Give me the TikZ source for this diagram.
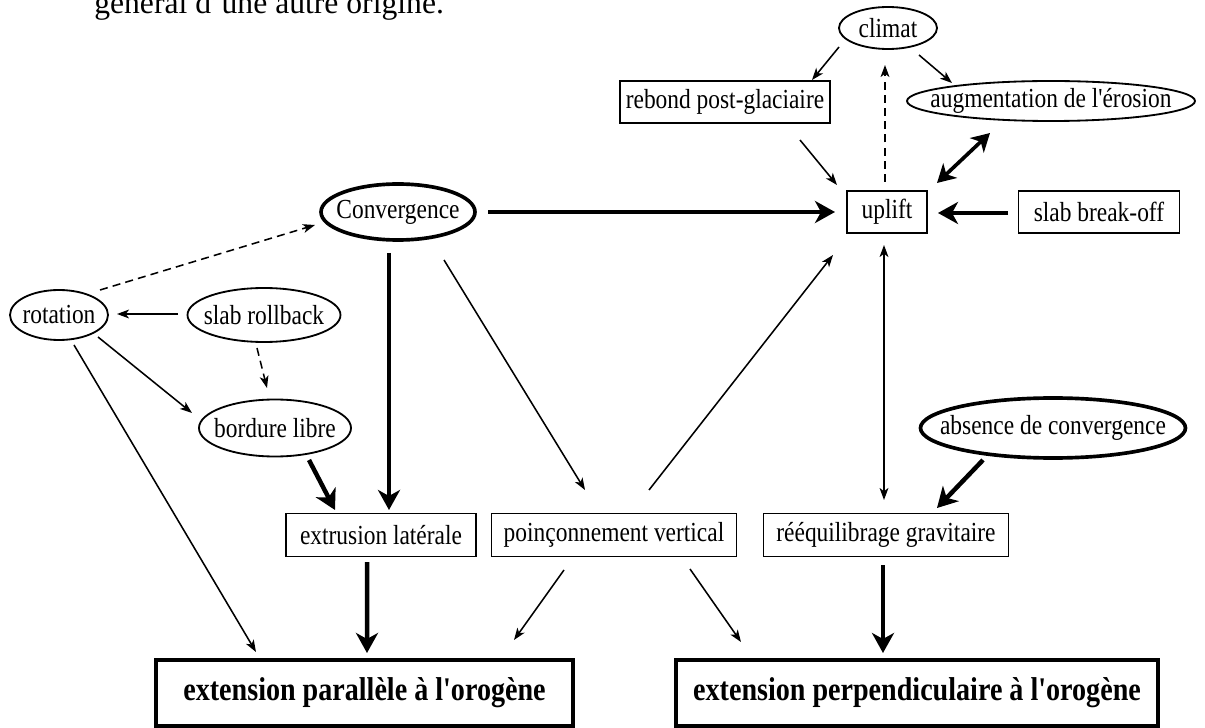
\documentclass[tikz,border=0pt]{standalone}
\usepackage{fontspec}
\setmainfont{Liberation Serif}[Ligatures=TeXOff]
\newfontfamily\labfont{Liberation Serif}[Ligatures=TeXOff, FakeStretch=0.85]
\usetikzlibrary{arrows.meta,shapes.geometric}
\begin{document}
\begin{tikzpicture}[x=0.025cm, y=-0.025cm,
  lbl/.style={font=\labfont\fontsize{19.6}{23}\selectfont, inner sep=0pt, line width=1.3pt},
  rbox/.style={lbl, draw, rectangle, inner xsep=4pt},
  ebox/.style={lbl, draw, ellipse},
  thickb/.style={line width=2.6pt},
  bbox/.style={draw, rectangle, inner sep=0pt, line width=3.2pt, font=\labfont\bfseries\fontsize{23.5}{27}\selectfont},
  sz/.style 2 args={minimum width=#1*0.025cm, minimum height=#2*0.025cm},
  thinarr/.style={line width=1.1pt, -{Stealth[length=0.3cm,width=0.22cm,inset=0.08cm]}},
  dasharr/.style={thinarr, dash pattern=on 0.2cm off 0.13cm},
  thickarr/.style={line width=3.2pt, -{Stealth[length=0.5cm,width=0.55cm,inset=0.15cm]}},
  midarr/.style={line width=2.6pt, {Stealth[length=0.45cm,width=0.5cm,inset=0.13cm]}-{Stealth[length=0.45cm,width=0.5cm,inset=0.13cm]}},
  dblthin/.style={line width=1.1pt, {Stealth[length=0.3cm,width=0.22cm,inset=0.08cm]}-{Stealth[length=0.3cm,width=0.22cm,inset=0.08cm]}}
]
\useasboundingbox (0,0) rectangle (1205,728);
\clip (0,0) rectangle (1205,728);

\node[anchor=base west, inner sep=0pt, font=\fontsize{22.5}{27}\selectfont] (toptext) at (94,14) {général d’une autre origine.};

\node[ebox, sz={98}{42}] (climat) at (888,28) {\makebox[0pt]{climat}};
\node[rbox, sz={208}{42}] (rebond) at (725,102) {rebond post-glaciaire};
\node[ebox, sz={288}{40}] (erosion) at (1051,101) {\makebox[0pt]{augmentation de l'érosion}};
\node[rbox, sz={80}{42}] (uplift) at (887,212) {uplift};
\node[rbox, sz={161}{42}] (breakoff) at (1099,212) {slab break-off};
\node[ebox, thickb, sz={154}{56}] (conv) at (398,212) {\makebox[0pt]{Convergence}};
\node[ebox, sz={98}{50}] (rotation) at (59,315) {\makebox[0pt]{rotation}};
\node[ebox, sz={153}{54}] (rollback) at (264,315) {\makebox[0pt]{slab rollback}};
\node[ebox, sz={152}{57}] (bordure) at (275,428) {\makebox[0pt]{bordure libre}};
\node[ebox, thickb, sz={265}{60}] (absence) at (1053,428) {\makebox[0pt]{absence de convergence}};
\node[rbox, sz={190}{43}] (extrusion) at (381,535) {extrusion latérale};
\node[rbox, sz={245}{43}] (poinc) at (614,535) {poinçonnement vertical};
\node[rbox, sz={245}{43}] (reequil) at (886,535) {rééquilibrage gravitaire};
\node[bbox, sz={417}{66}] (parallel) at (364.5,693) {extension parallèle à l'orogène};
\node[bbox, sz={482}{66}] (perp) at (917,693) {extension perpendiculaire à l'orogène};

% top cluster
\draw[thinarr] ([shift={(-49,19)}]climat.center) -- ([shift={(87,-22)}]rebond.center);
\draw[thinarr] ([shift={(31,27)}]climat.center) -- ([shift={(-99,-18)}]erosion.center);
\draw[thinarr] ([shift={(75,38)}]rebond.center) -- ([shift={(-50,-27)}]uplift.center);
\draw[dasharr] ([shift={(-2,-30)}]uplift.center) -- ([shift={(-3,37)}]climat.center);
\draw[midarr] ([shift={(50,-29)}]uplift.center) -- ([shift={(-61,32)}]erosion.center);
\draw[thickarr] ([shift={(90,0)}]conv.center) -- ([shift={(-52,0)}]uplift.center);
\draw[thickarr] ([shift={(-91,1)}]breakoff.center) -- ([shift={(51,1)}]uplift.center);

% left cluster
\draw[dasharr] ([shift={(41,-25)}]rotation.center) -- ([shift={(-83,13)}]conv.center);
\draw[thinarr] ([shift={(-86,-1)}]rollback.center) -- ([shift={(58,-1)}]rotation.center);
\draw[dasharr] ([shift={(-7,33)}]rollback.center) -- ([shift={(-8,-40)}]bordure.center);
\draw[thinarr] ([shift={(39,22)}]rotation.center) -- ([shift={(-83,-15)}]bordure.center);
\draw[thinarr] ([shift={(15,30)}]rotation.center) -- ([shift={(-108.5,-41)}]parallel.center);
\draw[thickarr] ([shift={(-9,41)}]conv.center) -- ([shift={(8,-25)}]extrusion.center);
\draw[thinarr] ([shift={(46,48)}]conv.center) -- ([shift={(-29,-45)}]poinc.center);
\draw[thickarr] ([shift={(34,32)}]bordure.center) -- ([shift={(-46,-25)}]extrusion.center);

% right cluster
\draw[thinarr] ([shift={(35,-45)}]poinc.center) -- ([shift={(-54,43)}]uplift.center);
\draw[dblthin] ([shift={(-3,33)}]uplift.center) -- ([shift={(-2,-35)}]reequil.center);
\draw[thickarr] ([shift={(-70,32)}]absence.center) -- ([shift={(51,-27)}]reequil.center);

% bottom
\draw[thickarr] ([shift={(-14,27)}]extrusion.center) -- ([shift={(2.5,-40)}]parallel.center);
\draw[thinarr] ([shift={(-50,35)}]poinc.center) -- ([shift={(149.5,-53)}]parallel.center);
\draw[thinarr] ([shift={(76,34)}]poinc.center) -- ([shift={(-176,-51)}]perp.center);
\draw[thickarr] ([shift={(-3,30)}]reequil.center) -- ([shift={(-34,-40)}]perp.center);
\end{tikzpicture}
\end{document}
